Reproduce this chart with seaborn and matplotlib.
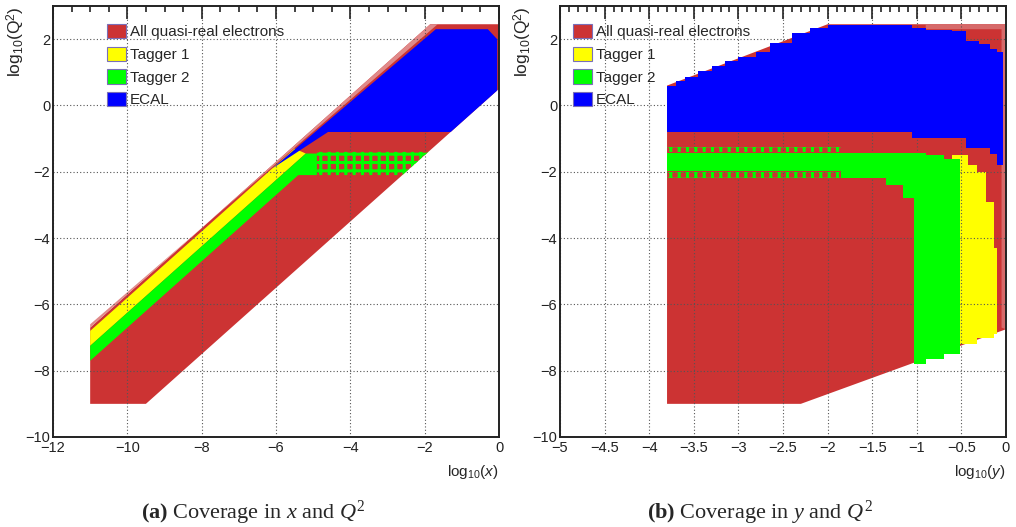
import numpy as np
import matplotlib
matplotlib.use("Agg")
import matplotlib.pyplot as plt
from matplotlib.patches import Patch
from matplotlib.ticker import MultipleLocator, FuncFormatter
import seaborn as sns

# ---------------- data ----------------
labels = ["All quasi-real electrons", "Tagger 1", "Tagger 2", "ECAL"]
colors = ["#cc3333", "#ffff00", "#00ff00", "#0000ff"]

# Panel (a): log10(x) vs log10(Q^2) region outlines
all_a_x = [-11.0, -9.5, 0.0, 0.0, -1.85, -11.0]
all_a_y = [-9.0, -9.0, 0.5, 2.45, 2.45, -6.7]
fringe_a_x = [-11.0, -1.85, -1.65, -11.0]
fringe_a_y = [-6.7, 2.45, 2.45, -6.6]
t1_a_x = [-11.0, -5.5, -5.2, -11.0]
t1_a_y = [-6.8, -1.3, -1.45, -7.25]
t2_a_x = [-11.0, -5.2, -4.9, -4.9, -5.4, -11.0]
t2_a_y = [-7.25, -1.45, -1.45, -2.1, -2.1, -7.7]
t2dot_a_x = [-4.9, -1.9, -2.6, -4.9]
t2dot_a_y = [-1.4, -1.4, -2.1, -2.1]
ecal_a_x = [-6.1, -4.6, -1.3, -0.05, -0.05, -0.3, -1.7]
ecal_a_y = [-1.9, -0.8, -0.8, 0.45, 2.0, 2.3, 2.3]

# Panel (b): log10(y) vs log10(Q^2)
all_b_x = [-3.8, -2.3, 0.0, 0.0, -2.0, -3.8]
all_b_y = [-9.0, -9.0, -6.75, 2.45, 2.45, 0.6]
fringe_b_x = [-0.9, 0.0, 0.0, -0.05, -0.05, -0.9]
fringe_b_y = [2.45, 2.45, -6.75, -6.7, 2.3, 2.3]
ecal_b_edges = [-3.8, -3.7, -3.6, -3.45, -3.3, -3.15, -3.0, -2.8, -2.65, -2.4,
                -2.2, -2.0, -1.05, -0.9, -0.6, -0.45, -0.3, -0.18, -0.1, -0.03]
ecal_b_top = [0.6, 0.75, 0.85, 1.05, 1.2, 1.35, 1.45, 1.62, 1.88, 2.18,
              2.33, 2.42, 2.35, 2.28, 2.25, 1.95, 1.85, 1.7, 1.6]
ecal_b_bot = [-0.8] * 12 + [-0.97, -0.97, -0.97, -1.27, -1.27, -1.45, -1.8]
t2_b_edges = [-3.8, -1.85, -1.35, -1.15, -1.03, -0.9, -0.7, -0.52]
t2_b_top = [-1.42, -1.42, -1.42, -1.42, -1.42, -1.5, -1.6]
t2_b_bot = [-1.97, -2.2, -2.4, -2.8, -7.8, -7.64, -7.5]
t2dot_b_x = [-3.8, -1.85]
t2dot_b_rows = [(-1.25, -1.4), (-2.0, -2.2)]
t1_b_edges = [-0.6, -0.43, -0.33, -0.22, -0.14, -0.1]
t1_b_top = [-1.5, -1.8, -2.0, -2.9, -4.3]
t1_b_bot = [-7.2, -7.2, -7.0, -7.0, -6.9]

# ---------------- style ----------------
sns.set_style("white")
plt.rcParams["font.family"] = ["Liberation Sans", "DejaVu Sans"]
plt.rcParams["mathtext.fontset"] = "custom"
plt.rcParams["mathtext.rm"] = "Liberation Serif"
plt.rcParams["mathtext.it"] = "Liberation Serif:italic"
plt.rcParams["mathtext.bf"] = "Liberation Serif:bold"
plt.rcParams["mathtext.sf"] = "Liberation Sans"
plt.rcParams["mathtext.tt"] = "Liberation Sans:italic"
plt.rcParams["hatch.linewidth"] = 2.2
plt.rcParams["hatch.color"] = "#00ff00"

fig = plt.figure(figsize=(10.16, 5.27), dpi=100)
W, H = 1016, 527
axa = fig.add_axes([53 / W, (H - 437) / H, 446 / W, 431 / H])
axb = fig.add_axes([560 / W, (H - 437) / H, 446 / W, 431 / H])


def stepfill(ax, edges, bot, top, color, z):
    e = np.asarray(edges)
    b = np.r_[bot, bot[-1]]
    t = np.r_[top, top[-1]]
    ax.fill_between(e, b, t, step="post", color=color, lw=0, zorder=z)


# panel (a)
axa.fill(all_a_x, all_a_y, color=colors[0], lw=0, zorder=1)
axa.fill(fringe_a_x, fringe_a_y, color="#e08a8a", lw=0, zorder=1)
axa.fill(t1_a_x, t1_a_y, color=colors[1], lw=0, zorder=2)
axa.fill(t2_a_x, t2_a_y, color=colors[2], lw=0, zorder=3)
axa.fill(t2dot_a_x, t2dot_a_y, facecolor="none", edgecolor=colors[2], hatch="++", lw=0, zorder=3)
axa.fill(ecal_a_x, ecal_a_y, color=colors[3], lw=0, zorder=4)
axa.set_xlim(-12, 0)

# panel (b)
axb.fill(all_b_x, all_b_y, color=colors[0], lw=0, zorder=1)
axb.fill(fringe_b_x, fringe_b_y, color="#d66a6a", lw=0, zorder=1)
stepfill(axb, t1_b_edges, t1_b_bot, t1_b_top, colors[1], 2)
stepfill(axb, t2_b_edges, t2_b_bot, t2_b_top, colors[2], 3)
for lo, hi in t2dot_b_rows:
    axb.fill_between(t2dot_b_x, [lo, lo], [hi, hi], facecolor="none",
                     edgecolor=colors[2], hatch="++", lw=0, zorder=3)
stepfill(axb, ecal_b_edges, ecal_b_bot, ecal_b_top, colors[3], 4)
axb.set_xlim(-5, 0)

handles = [Patch(facecolor=c, edgecolor="#7a6fb8", lw=0.8) for c in colors]
fmt = FuncFormatter(lambda v, p: ("%g" % v).replace("-", "\u2212"))

for ax, lx, xl, xmaj, xmin in [(axa, 0.108, r"log$_{\mathsf{10}}$($\mathtt{x}$)", 2, 0.5),
                               (axb, 0.016, r"log$_{\mathsf{10}}$($\mathtt{y}$)", 0.5, 0.1)]:
    ax.set_ylim(-10, 3)
    ax.xaxis.set_major_locator(MultipleLocator(xmaj))
    ax.xaxis.set_minor_locator(MultipleLocator(xmin))
    ax.yaxis.set_major_locator(MultipleLocator(2))
    ax.yaxis.set_minor_locator(MultipleLocator(0.5))
    ax.xaxis.set_major_formatter(fmt)
    ax.yaxis.set_major_formatter(fmt)
    ax.grid(True, which="major", color="#555555", ls=(0, (1, 2)), lw=0.8, zorder=6)
    ax.set_axisbelow(False)
    ax.tick_params(which="both", direction="in", top=True, right=False,
                   labelsize=10.5, width=1.2, colors="#222222")
    ax.tick_params(axis="x", pad=3)
    ax.tick_params(axis="y", pad=2)
    ax.tick_params(which="major", length=9)
    ax.tick_params(which="minor", length=4.5)
    for s in ax.spines.values():
        s.set_linewidth(1.4)
        s.set_color("#222222")
        s.set_zorder(7)
    ax.set_ylabel(r"log$_{\mathsf{10}}$(Q$^{\mathsf{2}}$)", fontsize=12.5, loc="top", va="center")
    ax.yaxis.set_label_coords(-0.083, 1.0)
    ax.set_xlabel(xl, fontsize=11, loc="right")
    ax.xaxis.set_label_coords(1.0, -0.06)
    leg = ax.legend(handles, labels, loc="upper left", bbox_to_anchor=(lx, 0.972),
                    frameon=False, fontsize=11, handlelength=1.2, handleheight=1.05,
                    handletextpad=0.3, labelspacing=0.48, borderaxespad=0)
    leg.set_zorder(8)

fig.text(253 / W, 1 - 513 / H, r"$\mathbf{(a)}$ Coverage in $x$ and $Q^{2}$",
         ha="center", va="center", fontsize=16, family="Liberation Serif")
fig.text(760 / W, 1 - 513 / H, r"$\mathbf{(b)}$ Coverage in $y$ and $Q^{2}$",
         ha="center", va="center", fontsize=16, family="Liberation Serif")

fig.savefig("out.png", dpi=100)
